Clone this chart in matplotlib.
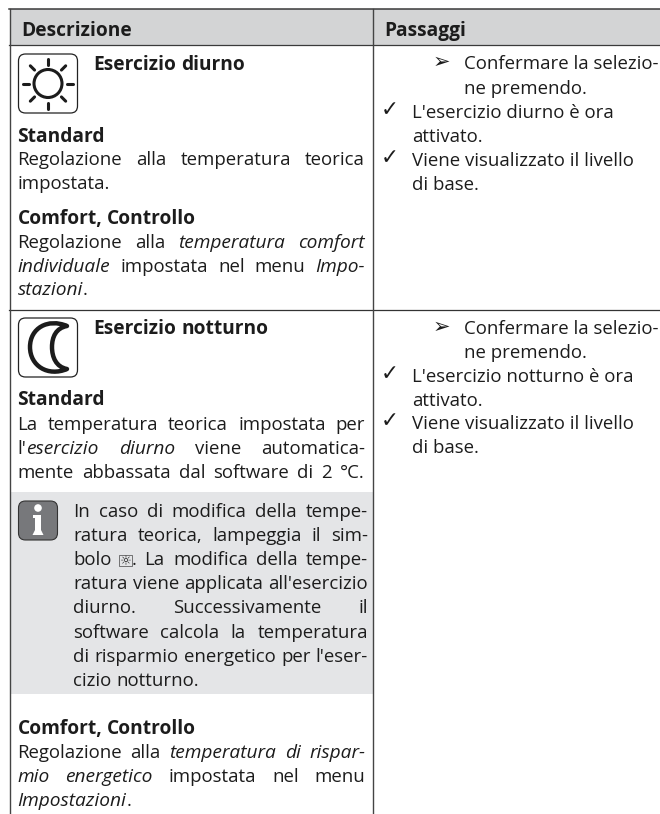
import matplotlib
matplotlib.use("Agg")
import matplotlib.pyplot as plt
import numpy as np
from matplotlib.patches import Rectangle, FancyBboxPatch, Circle, Polygon, PathPatch
from matplotlib.path import Path

plt.rcParams['font.family'] = ['Open Sans', 'DejaVu Sans']

INK = '#1c1c1c'
SIZES = {'r': 13.4, 'b': 13.8, 'i': 13.8, 's': 9.5}

headers = ["Descrizione", "Passaggi"]

# (testo, baseline, x sinistra, x destra o None) - r=regular b=bold i=italic s=simbolo
left_lines = [
    ([("b", "Esercizio diurno")], 70, 93.5, None),
    ([("b", "Standard")], 142, 17.5, None),
    ([("r", "Regolazione alla temperatura teorica")], 165, 17.5, 365),
    ([("r", "impostata.")], 189, 17.5, None),
    ([("b", "Comfort, Controllo")], 224, 17.5, None),
    ([("r", "Regolazione alla "), ("i", "temperatura comfort")], 248, 17.5, 365),
    ([("i", "individuale"), ("r", " impostata nel menu "), ("i", "Impo-")], 272, 17.5, 365),
    ([("i", "stazioni"), ("r", ".")], 295, 17.5, None),
    ([("b", "Esercizio notturno")], 334, 93.5, None),
    ([("b", "Standard")], 405, 17.5, None),
    ([("r", "La temperatura teorica impostata per")], 430, 17.5, 365),
    ([("r", "l'"), ("i", "esercizio diurno"), ("r", " viene automatica-")], 454, 17.5, 365),
    ([("r", "mente abbassata dal software di 2 °C.")], 478, 17.5, 365),
    ([("r", "In caso di modifica della tempe-")], 517, 73, 368),
    ([("r", "ratura teorica, lampeggia il sim-")], 541, 73, 368),
    ([("r", "bolo "), ("s", "☼"), ("r", ". La modifica della tempe-")], 565, 73, 368),
    ([("r", "ratura viene applicata all'esercizio")], 589, 73, 368),
    ([("r", "diurno. Successivamente il")], 613, 73, 368),
    ([("r", "software calcola la temperatura")], 638, 73, 368),
    ([("r", "di risparmio energetico per l'eser-")], 662, 73, 368),
    ([("r", "cizio notturno.")], 686, 73, None),
    ([("b", "Comfort, Controllo")], 734, 17.5, None),
    ([("r", "Regolazione alla "), ("i", "temperatura di rispar-")], 758, 17.5, 365),
    ([("i", "mio energetico"), ("r", " impostata nel menu")], 782, 17.5, 365),
    ([("i", "Impostazioni"), ("r", ".")], 806, 17.5, None),
]

right_lines = [
    ("Confermare la selezio-", 69, 464),
    ("ne premendo.", 94, 464),
    ("L'esercizio diurno è ora", 118, 412),
    ("attivato.", 142, 412),
    ("Viene visualizzato il livello", 166, 412),
    ("di base.", 190, 412),
    ("Confermare la selezio-", 334, 464),
    ("ne premendo.", 358, 464),
    ("L'esercizio notturno è ora", 382, 412),
    ("attivato.", 406, 412),
    ("Viene visualizzato il livello", 429, 412),
    ("di base.", 453, 412),
]
arrow_rows = [68, 333]
check_rows = [116, 164, 380, 427]

fig = plt.figure(figsize=(6.6, 8.14), dpi=100)
ax = fig.add_axes([0, 0, 1, 1])
ax.set_xlim(0, 660)
ax.set_ylim(814, 0)
ax.axis('off')
renderer = fig.canvas.get_renderer()


def style(kind):
    return dict(fontsize=SIZES[kind], color=INK,
                fontweight='bold' if kind == 'b' else 'normal',
                fontstyle='italic' if kind == 'i' else 'normal')


def width(s, kind):
    t = ax.text(0, 0, s, **style(kind))
    w = t.get_window_extent(renderer).width
    t.remove()
    return w


def draw_line(runs, y, x0, x1):
    # parole una per una, cosi la riga giustificata arriva al margine destro
    tokens = []  # (kind, parola, attaccata alla precedente)
    prev_space = True
    for kind, s in runs:
        words = s.split()
        for i, w in enumerate(words):
            glued = i == 0 and not prev_space and not s.startswith(' ')
            tokens.append((kind, w, glued))
        prev_space = s.endswith(' ')
    widths = [width(w, k) for k, w, g in tokens]
    gaps = sum(1 for k, w, g in tokens[1:] if not g)
    space = width("a a", "r") - width("aa", "r")
    if x1 is not None and gaps > 0:
        space = (x1 - x0 - sum(widths)) / gaps
    x = x0
    for (k, w, g), wd in zip(tokens, widths):
        if g is False and x > x0:
            x += space
        ax.text(x, y, w, va='baseline', ha='left', **style(k))
        if k == 's':
            # il simbolo ha una cornice quadrata
            ax.add_patch(Rectangle((x - 0.5, y - 10), wd + 1, 10.5, fc='none', ec='#444444', lw=0.5))
        x += wd


# sfondi
ax.add_patch(Rectangle((10, 9), 650, 36, fc='#d3d4d5', ec='none', zorder=0))
ax.add_patch(Rectangle((10, 492), 363, 202, fc='#e4e5e7', ec='none', zorder=0))

# griglia
ax.plot([9, 660], [9, 9], color='#3a3a3a', lw=1.1)
ax.plot([9, 660], [45, 45], color='#3a3a3a', lw=0.9)
ax.plot([9, 660], [310, 310], color='#333333', lw=0.9)
ax.plot([10, 10], [9, 813], color='#444444', lw=1.0)
ax.plot([373, 373], [9, 813], color='#444444', lw=1.0)

ax.text(21.5, 36, headers[0], fontsize=SIZES['b'], fontweight='bold', color=INK, va='baseline')
ax.text(384.5, 36, headers[1], fontsize=SIZES['b'], fontweight='bold', color=INK, va='baseline')

for runs, y, x0, x1 in left_lines:
    draw_line(runs, y, x0, x1)

for s, y, x in right_lines:
    ax.text(x, y, s, fontsize=SIZES['r'], color=INK, va='baseline')
for y in arrow_rows:
    ax.text(433, y, "➢", fontsize=15, color=INK, va='baseline', family=['DejaVu Sans'])
for y in check_rows:
    ax.text(380.5, y, "✓", fontsize=15.5, color=INK, va='baseline', family=['DejaVu Sans'])


def icon_box(y0):
    ax.add_patch(FancyBboxPatch((18.5, y0), 59, 59, boxstyle="round,pad=0,rounding_size=7",
                                fc='white', ec='#222222', lw=0.9))


# icona sole
icon_box(54)
cx, cy = 48, 83.5
ax.add_patch(Circle((cx, cy), 14, fc='none', ec=INK, lw=2.2))
for a in np.arange(0, 360, 45):
    c, s = np.cos(np.radians(a)), np.sin(np.radians(a))
    ax.plot([cx + 19 * c, cx + 25 * c], [cy + 19 * s, cy + 25 * s], color=INK, lw=2.2,
            solid_capstyle='round')

# icona luna (contorno spesso, interno bianco)
icon_box(318)
moon = Path([(67, 326), (48, 318), (30, 328), (30, 347), (30, 366), (48, 377), (67, 369),
             (56, 367), (52, 357), (52, 347), (52, 337), (56, 328), (67, 326),
             (67, 326)],
            [Path.MOVETO, Path.CURVE4, Path.CURVE4, Path.CURVE4, Path.CURVE4, Path.CURVE4, Path.CURVE4,
             Path.CURVE4, Path.CURVE4, Path.CURVE4, Path.CURVE4, Path.CURVE4, Path.CURVE4,
             Path.CLOSEPOLY])
ax.add_patch(PathPatch(moon, fc='white', ec=INK, lw=3.2, joinstyle='round'))

# icona info
ax.add_patch(FancyBboxPatch((18.5, 501), 39, 39, boxstyle="round,pad=0,rounding_size=7",
                            fc='#77787b', ec='#333333', lw=0.8))
ax.add_patch(Circle((38, 508), 3.8, fc='white', ec='none'))
ax.add_patch(Polygon([(33, 515), (41, 515), (41, 530), (43.5, 535), (32.5, 535), (35, 530), (35, 518), (33, 518)],
                     closed=True, fc='white', ec='none'))

fig.savefig("out.png", dpi=100)
